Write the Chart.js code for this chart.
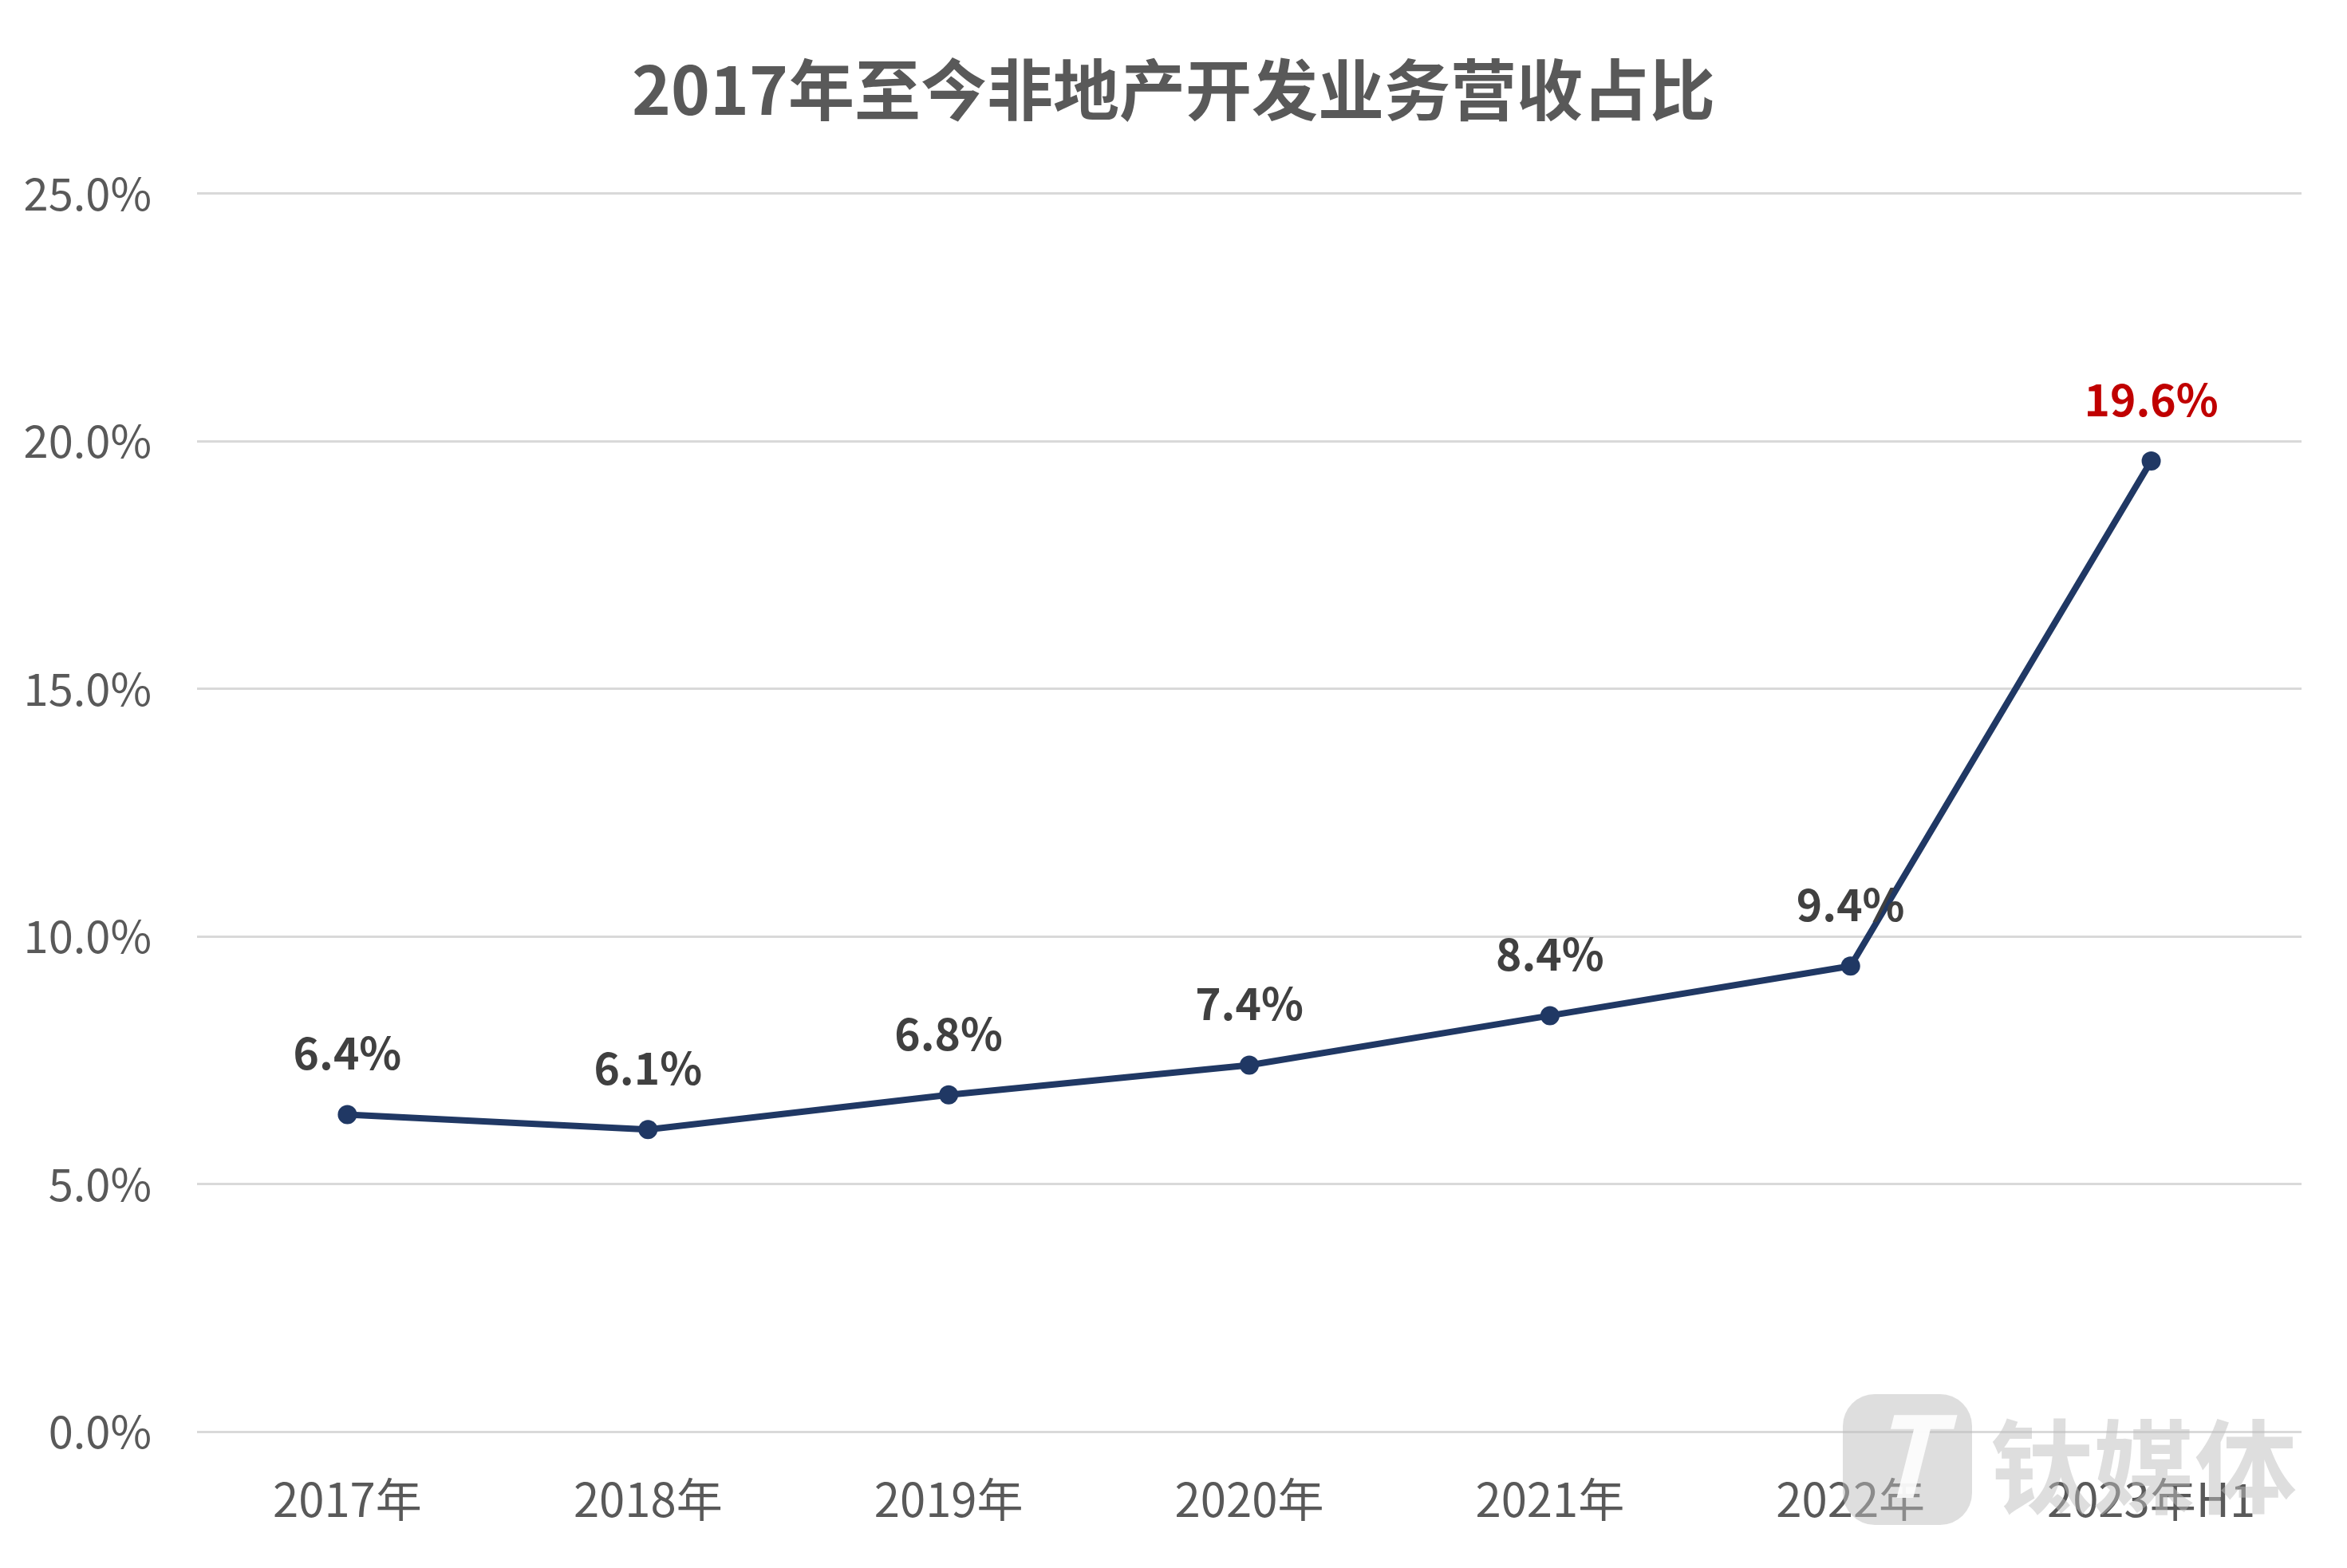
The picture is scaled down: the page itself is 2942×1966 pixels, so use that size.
<!DOCTYPE html>
<html>
<head>
<meta charset="utf-8">
<script src="https://cdn.jsdelivr.net/npm/chart.js@4.4.0/dist/chart.umd.min.js"></script>
<style>
  body { margin: 0; background: #fff; }
  canvas { display: block; }
</style>
</head>
<body>
<canvas id="chart" width="2942" height="1966"></canvas>
<script>
const categories = ["2017年", "2018年", "2019年", "2020年", "2021年", "2022年", "2023年H1"];
const shareValues = [6.4, 6.1, 6.8, 7.4, 8.4, 9.4, 19.6];
const yTicks = [0, 5, 10, 15, 20, 25];

const FONT = '"Noto Sans CJK SC", "Noto Sans", sans-serif';

// value labels above each point, last one in red
const valueLabels = {
  id: "valueLabels",
  afterDatasetsDraw(chart) {
    const ctx = chart.ctx;
    const meta = chart.getDatasetMeta(0);
    ctx.save();
    ctx.font = "bold 55px " + FONT;
    ctx.textAlign = "center";
    ctx.textBaseline = "middle";
    meta.data.forEach((pt, i) => {
      ctx.fillStyle = i === shareValues.length - 1 ? "#C00000" : "#404040";
      ctx.fillText(shareValues[i].toFixed(1) + "%", pt.x, pt.y - 77);
    });
    ctx.restore();
  }
};

// faint logo in the bottom right corner
const watermark = {
  id: "watermark",
  afterDraw(chart) {
    const ctx = chart.ctx;
    ctx.save();
    ctx.fillStyle = "rgba(190,190,190,0.5)";
    ctx.beginPath();
    ctx.roundRect(2310, 1748, 162, 164, 40);
    ctx.fill();
    ctx.fillStyle = "rgba(255,255,255,0.9)";
    ctx.font = "italic bold 140px " + FONT;
    ctx.textAlign = "center";
    ctx.textBaseline = "middle";
    ctx.fillText("T", 2388, 1825);
    ctx.fillStyle = "rgba(190,190,190,0.5)";
    ctx.font = "bold 128px " + FONT;
    ctx.textAlign = "left";
    ctx.textBaseline = "alphabetic";
    ctx.fillText("钛媒体", 2495, 1888);
    ctx.restore();
  }
};

new Chart(document.getElementById("chart"), {
  type: "line",
  data: {
    labels: categories,
    datasets: [{
      data: shareValues,
      borderColor: "#203864",
      backgroundColor: "#203864",
      borderWidth: 8,
      pointRadius: 12,
      pointHoverRadius: 12,
      pointBackgroundColor: "#203864",
      pointBorderWidth: 0,
      tension: 0
    }]
  },
  options: {
    responsive: false,
    devicePixelRatio: 1,
    animation: false,
    layout: { padding: 0 },
    plugins: {
      legend: { display: false },
      tooltip: { enabled: false },
      title: {
        display: true,
        text: "2017年至今非地产开发业务营收占比",
        color: "#595959",
        font: { family: FONT, size: 83, weight: "bold", lineHeight: 1.2 },
        padding: { top: 63, bottom: 80 }
      }
    },
    scales: {
      x: {
        offset: true,
        grid: { display: false, drawTicks: false },
        border: { display: false },
        ticks: {
          color: "#595959",
          font: { family: FONT, size: 58 },
          padding: 50,
          maxRotation: 0
        },
        afterFit(scale) { scale.height = 171; }
      },
      y: {
        min: 0,
        max: 25,
        afterBuildTicks(scale) { scale.ticks = yTicks.map(v => ({ value: v })); },
        grid: { color: "#d9d9d9", lineWidth: 3, drawTicks: false },
        border: { display: false },
        ticks: {
          color: "#595959",
          font: { family: FONT, size: 56 },
          padding: 57,
          callback: v => v.toFixed(1) + "%"
        },
        afterFit(scale) { scale.width = 247; }
      },
      // empty right margin so the title stays centred on the canvas
      yRight: {
        position: "right",
        grid: { display: false, drawTicks: false },
        border: { display: false },
        ticks: { display: false },
        afterFit(scale) { scale.width = 57; }
      }
    }
  },
  plugins: [valueLabels, watermark]
});
</script>
</body>
</html>
